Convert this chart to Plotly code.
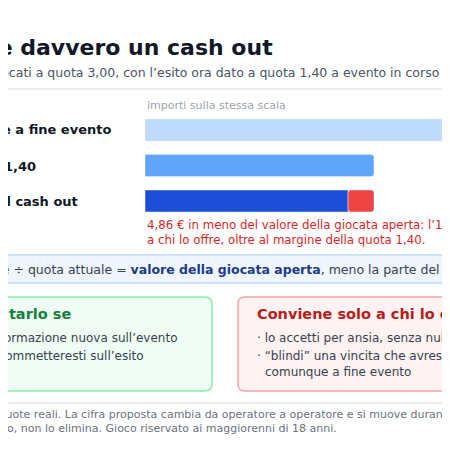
import plotly.graph_objects as go

W = H = 450

# data
bar_labels = ["Vincita potenziale a fine evento", "Valore: 60 € ÷ 1,40", "Offerta dal cash out"]
potential_win = 60.0
open_value = 42.86
cashout_offer = 38.00
house_cut = 4.86

PX_PER_EUR = 5.343
BAR_X0 = 145
OFF = 8  # page body margin


def px(x):
    return (x - OFF) / W


def py(y):
    return 1 - (y - OFF) / H


def rrect(x0, y0, x1, y1, r=6):
    X0, X1 = px(x0), px(x1)
    Y0, Y1 = py(y0), py(y1)
    rx, ry = r / W, r / H
    return (f"M{X0+rx},{Y0} L{X1-rx},{Y0} Q{X1},{Y0} {X1},{Y0-ry} L{X1},{Y1+ry} "
            f"Q{X1},{Y1} {X1-rx},{Y1} L{X0+rx},{Y1} Q{X0},{Y1} {X0},{Y1+ry} "
            f"L{X0},{Y0-ry} Q{X0},{Y0} {X0+rx},{Y0} Z")


fig = go.Figure()
fig.add_trace(go.Bar(y=[0], x=[potential_win], orientation="h", marker_color="#bfdbfe",
                     width=0.62, hoverinfo="skip"))
fig.add_trace(go.Bar(y=[1], x=[open_value], orientation="h", marker_color="#60a5fa",
                     width=0.62, hoverinfo="skip"))
fig.add_trace(go.Bar(y=[2], x=[cashout_offer], orientation="h", marker_color="#1d4ed8",
                     width=0.62, hoverinfo="skip"))
fig.add_trace(go.Bar(y=[2], x=[house_cut], base=[cashout_offer], orientation="h",
                     marker_color="#ef4444", width=0.62, hoverinfo="skip"))

F = "DejaVu Sans"
ann = []


def T(x, y, text, size=13, color="#374151", anchor="left", bold=False):
    if bold:
        text = f"<b>{text}</b>"
    ann.append(dict(x=px(x), y=py(y), xref="paper", yref="paper", text=text, showarrow=False,
                    xanchor=anchor, yanchor="middle", align="left",
                    font=dict(family=F, size=size, color=color)))


T(275, 47, "Quando conviene davvero un cash out", 22, "#111827", "right", True)
T(-44, 72, "20 € giocati a quota 3,00, con l’esito ora dato a quota 1,40 a evento in corso", 12.5, "#4b5563")
T(145, 106, "importi sulla stessa scala", 11, "#9ca3af")
T(113, 130, bar_labels[0], 13, "#111827", "right", True)
T(38, 166, bar_labels[1], 13, "#111827", "right", True)
T(80, 201, bar_labels[2], 13, "#111827", "right", True)
T(145, 225, "4,86 € in meno del valore della giocata aperta: l’11,3% va", 11.8, "#dc2626")
T(145, 240, "a chi lo offre, oltre al margine della quota 1,40.", 11.8, "#dc2626")
T(-104, 269, "Vincita potenziale ÷ quota attuale = <b style='color:#1e3a8a'>valore della giocata aperta</b>, meno la parte del banco", 12.5, "#374151")
T(73, 314, "Ha senso valutarlo se", 14.5, "#15803d", "right", True)
T(180, 338, "· hai un’informazione nuova sull’evento", 12, "#374151", "right")
T(146, 356, "· a questa quota non scommetteresti sull’esito", 12, "#374151", "right")
T(8, 372, "  di nuovo", 12, "#374151", "right")
T(255, 314, "Conviene solo a chi lo offre se", 14.5, "#b91c1c", bold=True)
T(255, 338, "· lo accetti per ansia, senza nulla di nuovo", 12, "#374151")
T(255, 356, "· “blindi” una vincita che avresti incassato", 12, "#374151")
T(263, 372, "comunque a fine evento", 12, "#374151")
T(-124, 414, "Cifre di esempio, non quote reali. La cifra proposta cambia da operatore a operatore e si muove durante l’evento.", 11, "#6b7280")
T(339, 428, "Il cash out sposta il rischio, non lo elimina. Gioco riservato ai maggiorenni di 18 anni.", 11, "#6b7280", "right")

shapes = [
    dict(type="line", xref="paper", yref="paper", x0=0, x1=1, y0=py(89), y1=py(89),
         line=dict(color="#e5e7eb", width=1.5)),
    dict(type="path", xref="paper", yref="paper", path=rrect(-20, 255, 470, 283, 4),
         fillcolor="#eff6ff", line=dict(color="#bfdbfe", width=1.5), layer="below"),
    dict(type="path", xref="paper", yref="paper", path=rrect(-20, 297, 212, 391, 7),
         fillcolor="#f0fdf4", line=dict(color="#86efac", width=1.5), layer="below"),
    dict(type="path", xref="paper", yref="paper", path=rrect(238, 297, 470, 391, 7),
         fillcolor="#fef2f2", line=dict(color="#fca5a5", width=1.5), layer="below"),
    dict(type="line", xref="paper", yref="paper", x0=0, x1=1, y0=py(403), y1=py(403),
         line=dict(color="#e5e7eb", width=1.5)),
]

x_max = (W + OFF - BAR_X0) / PX_PER_EUR
fig.update_layout(
    width=W, height=H, margin=dict(l=0, r=0, t=0, b=0),
    paper_bgcolor="white", plot_bgcolor="white",
    barmode="overlay", barcornerradius=3, showlegend=False,
    xaxis=dict(domain=[px(BAR_X0), 1], range=[0, x_max], visible=False, fixedrange=True),
    yaxis=dict(domain=[py(222.3), py(108.7)], range=[2.6, -0.6], visible=False, fixedrange=True),
    annotations=ann, shapes=shapes,
)
fig.write_html("out.html")
